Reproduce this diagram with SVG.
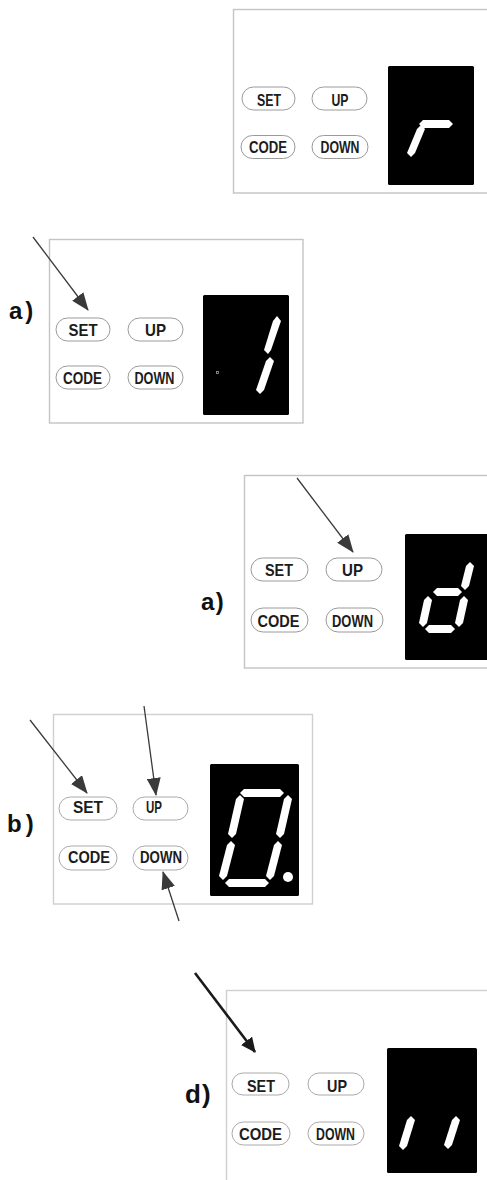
<svg xmlns="http://www.w3.org/2000/svg" width="487" height="1180" viewBox="0 0 487 1180">
<style>
.box{fill:#fff;stroke:#c4c4c4;stroke-width:1.4}
.pill{fill:#fff;stroke:#9a9a9a;stroke-width:1}
.bt{font-family:"Liberation Sans",Arial,sans-serif;font-size:17px;font-weight:bold;fill:#1c1c1c;text-anchor:middle}
.disp{fill:#000}
.seg{fill:#fff}
.lbl{font-family:"Liberation Sans",Arial,sans-serif;font-size:24px;font-weight:bold;fill:#111}
.arr{stroke:#3a3a3a;stroke-width:1.3;fill:none;marker-end:url(#ah)}
.arr2{stroke:#1a1a1a;stroke-width:2.6;fill:none;marker-end:url(#ah2)}
</style>
<defs>
<marker id="ah" markerUnits="userSpaceOnUse" markerWidth="18" markerHeight="14" refX="17" refY="7" orient="auto"><path d="M0,0 L18,7 L0,14 z" fill="#3a3a3a"/></marker>
<marker id="ah2" markerUnits="userSpaceOnUse" markerWidth="15" markerHeight="14" refX="14" refY="7" orient="auto"><path d="M0,0 L15,7 L0,14 z" fill="#1a1a1a"/></marker>
</defs>
<rect width="487" height="1180" fill="#fff"/>

<g id="panel1">
<rect class="box" x="233.5" y="9.5" width="260" height="183.5"/>
<rect class="pill" x="242" y="87" width="53" height="23" rx="11.5"/>
<text class="bt" x="269" y="106" textLength="24" lengthAdjust="spacingAndGlyphs">SET</text>
<rect class="pill" x="312" y="87" width="55" height="23" rx="11.5"/>
<text class="bt" x="340" y="106" textLength="17" lengthAdjust="spacingAndGlyphs">UP</text>
<rect class="pill" x="241" y="135.5" width="54" height="23" rx="11.5"/>
<text class="bt" x="268" y="153" textLength="38" lengthAdjust="spacingAndGlyphs">CODE</text>
<rect class="pill" x="312" y="135.5" width="56" height="23" rx="11.5"/>
<text class="bt" x="340" y="153" textLength="39" lengthAdjust="spacingAndGlyphs">DOWN</text>
<rect class="disp" x="388" y="66" width="86" height="119" rx="1.5"/>
<polygon class="seg" points="419,124 423,120 449,120 453,124 449,128 423,128"/>
<polygon class="seg" points="421,125 425,129 415,153 411,157 407,153 417,129"/>
</g>

<g id="panel2">
<rect class="box" x="49.5" y="239.5" width="253.5" height="183.5"/>
<text class="lbl" x="9" y="319" letter-spacing="3">a)</text>
<rect class="pill" x="56" y="318" width="54" height="23" rx="11.5"/>
<text class="bt" x="83" y="336" textLength="29" lengthAdjust="spacingAndGlyphs">SET</text>
<rect class="pill" x="128" y="318" width="55" height="23" rx="11.5"/>
<text class="bt" x="155.5" y="336" textLength="21" lengthAdjust="spacingAndGlyphs">UP</text>
<rect class="pill" x="56" y="366" width="54" height="23" rx="11.5"/>
<text class="bt" x="82.5" y="384" textLength="39" lengthAdjust="spacingAndGlyphs">CODE</text>
<rect class="pill" x="128" y="366" width="55" height="23" rx="11.5"/>
<text class="bt" x="154.5" y="384" textLength="40" lengthAdjust="spacingAndGlyphs">DOWN</text>
<rect class="disp" x="203" y="295" width="86" height="120" rx="1.5"/>
<polygon class="seg" points="277,316 281,321 271,350 268,354 264,350 273,321"/>
<polygon class="seg" points="270,357 274,361 264,390 260,394 256,390 266,361"/>
<rect x="216.5" y="371.5" width="2" height="2" fill="none" stroke="#999" stroke-width="0.8"/>
</g>

<g id="panel3">
<rect class="box" x="244.5" y="475.5" width="250" height="192.5"/>
<text class="lbl" x="201" y="610" letter-spacing="1.5">a)</text>
<rect class="pill" x="251" y="558" width="57" height="23" rx="11.5"/>
<text class="bt" x="279" y="576" textLength="28" lengthAdjust="spacingAndGlyphs">SET</text>
<rect class="pill" x="326" y="558" width="56" height="23" rx="11.5"/>
<text class="bt" x="352.5" y="576" textLength="21" lengthAdjust="spacingAndGlyphs">UP</text>
<rect class="pill" x="251" y="608" width="57" height="24" rx="12"/>
<text class="bt" x="278.5" y="627" textLength="42" lengthAdjust="spacingAndGlyphs">CODE</text>
<rect class="pill" x="326" y="608" width="57" height="24" rx="12"/>
<text class="bt" x="352.5" y="627" textLength="41" lengthAdjust="spacingAndGlyphs">DOWN</text>
<rect class="disp" x="405" y="534" width="90" height="126" rx="1.5"/>
<polygon class="seg" points="470,562 474,566 469,586 465,590 461,586 466,566"/>
<polygon class="seg" points="433,592 437,588 458,588 462,592 458,596 437,596"/>
<polygon class="seg" points="428,596 432,600 427,623 423,627 419,623 424,600"/>
<polygon class="seg" points="464,596 468,600 463,623 459,627 455,623 460,600"/>
<polygon class="seg" points="425,629 429,625 451,625 455,629 451,633 429,633"/>
</g>

<g id="panel4">
<rect class="box" x="53.5" y="714.5" width="259" height="189.5" style="stroke:#cfcfcf"/>
<text class="lbl" x="7" y="832" letter-spacing="4">b)</text>
<rect class="pill" x="59" y="797" width="58" height="23" rx="11.5" style="stroke:#aaa"/>
<text class="bt" x="88" y="813" textLength="30" lengthAdjust="spacingAndGlyphs">SET</text>
<rect class="pill" x="133" y="797" width="55" height="23" rx="11.5" style="stroke:#aaa"/>
<text class="bt" x="154" y="813" textLength="16" lengthAdjust="spacingAndGlyphs">UP</text>
<rect class="pill" x="59" y="846" width="58" height="24" rx="12" style="stroke:#aaa"/>
<text class="bt" x="89" y="863" textLength="42" lengthAdjust="spacingAndGlyphs">CODE</text>
<rect class="pill" x="133" y="846" width="55" height="24" rx="12" style="stroke:#aaa"/>
<text class="bt" x="161" y="863" textLength="42" lengthAdjust="spacingAndGlyphs">DOWN</text>
<rect class="disp" x="210" y="764" width="89" height="132" rx="1.5"/>
<polygon class="seg" points="240,793 244,789 280,789 284,793 280,797 244,797"/>
<polygon class="seg" points="240,795 244,799 236,834 232,838 228,834 236,799"/>
<polygon class="seg" points="288,795 292,799 284,834 280,838 276,834 284,799"/>
<polygon class="seg" points="231,841 235,845 227,876 223,880 219,876 227,845"/>
<polygon class="seg" points="278,841 282,845 274,876 270,880 266,876 274,845"/>
<polygon class="seg" points="225,883 229,879 265,879 269,883 265,887 229,887"/>
<circle class="seg" cx="288" cy="877" r="5"/>
</g>

<g id="panel5">
<rect class="box" x="226.5" y="990.5" width="270" height="200" style="stroke:#cfcfcf"/>
<text class="lbl" x="185" y="1103" letter-spacing="1" style="font-size:26px">d)</text>
<rect class="pill" x="232" y="1073" width="57" height="22" rx="11" style="stroke:#aaa"/>
<text class="bt" x="261" y="1092" textLength="28" lengthAdjust="spacingAndGlyphs">SET</text>
<rect class="pill" x="308" y="1073" width="56" height="22" rx="11" style="stroke:#aaa"/>
<text class="bt" x="337" y="1092" textLength="20" lengthAdjust="spacingAndGlyphs">UP</text>
<rect class="pill" x="232" y="1122" width="58" height="23" rx="11.5" style="stroke:#aaa"/>
<text class="bt" x="260.5" y="1140" textLength="43" lengthAdjust="spacingAndGlyphs">CODE</text>
<rect class="pill" x="308" y="1122" width="56" height="23" rx="11.5" style="stroke:#aaa"/>
<text class="bt" x="335.5" y="1140" textLength="39" lengthAdjust="spacingAndGlyphs">DOWN</text>
<rect class="disp" x="387" y="1048" width="90" height="125" rx="1.5"/>
<polygon class="seg" points="411,1116 415,1120 407,1146 403,1150 399,1146 407,1120"/>
<polygon class="seg" points="456,1116 460,1120 452,1145 448,1149 444,1145 452,1120"/>
</g>

<g id="connectors">
<line class="arr" x1="33" y1="237" x2="88" y2="310"/>
<line class="arr" x1="297" y1="478" x2="353" y2="552"/>
<line class="arr" x1="30" y1="720" x2="87" y2="793"/>
<line class="arr" x1="144" y1="706" x2="156" y2="795"/>
<line class="arr" x1="179" y1="921" x2="163" y2="872"/>
<line class="arr2" x1="195" y1="973" x2="255" y2="1052"/>
</g>
</svg>
